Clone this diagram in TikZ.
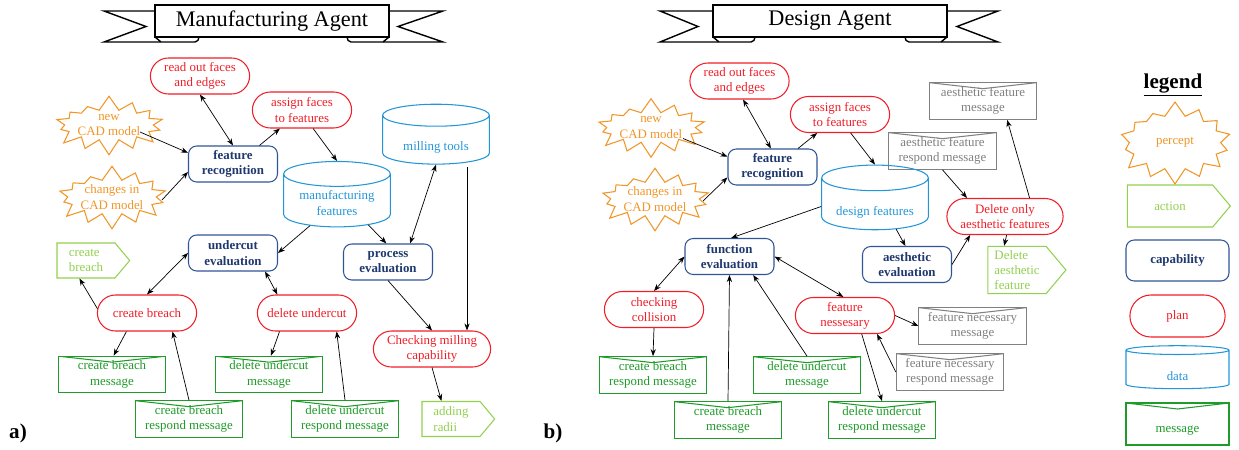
\documentclass[tikz,border=0pt]{standalone}
\usepackage{fontspec}
\setmainfont{Liberation Serif}
\usetikzlibrary{shapes.symbols,shapes.geometric,shapes.misc,arrows.meta,calc}

\definecolor{percol}{RGB}{240,150,40}
\definecolor{actcol}{RGB}{146,208,80}
\definecolor{capcol}{RGB}{47,85,151}
\definecolor{captext}{RGB}{31,56,110}
\definecolor{plancol}{RGB}{240,30,40}
\definecolor{datcol}{RGB}{35,150,215}
\definecolor{msgcol}{RGB}{30,155,40}
\definecolor{msggray}{RGB}{128,128,128}

\begin{document}
\begin{tikzpicture}[>={Stealth[length=6pt,width=4.5pt]}, x=0.03cm, y=-0.03cm,
    line width=0.6pt, font=\fontsize{11}{13}\selectfont,
    percept/.style={starburst, starburst points=14, starburst point height=0.45cm,
        random starburst=7, draw=percol, text=percol, line width=0.9pt, align=center,
        inner sep=0pt, minimum width=2.9cm, minimum height=1.3cm},
    actionbox/.style={signal, signal to=east, signal pointer angle=100, draw=actcol,
        text=actcol, line width=0.9pt, align=left, minimum width=2.18cm,
        minimum height=1.05cm},
    capab/.style={rectangle, rounded corners=7pt, draw=capcol, text=captext,
        font=\fontsize{11}{13}\selectfont\bfseries, line width=0.9pt, align=center,
        minimum width=2.67cm, minimum height=1.08cm},
    planbox/.style={rounded rectangle, draw=plancol, text=plancol, line width=0.9pt,
        align=center, minimum width=3.21cm, minimum height=1.08cm},
    databox/.style={cylinder, shape border rotate=90, aspect=0.3, draw=datcol,
        text=datcol, line width=0.9pt, align=center, minimum width=3.2cm,
        minimum height=1.6cm, execute at begin node={\rule{0pt}{17pt}}},
    msgbox/.style={rectangle, draw=#1, text=#1, line width=0.9pt, align=center,
        minimum width=3.22cm, minimum height=1.1cm,
        execute at begin node={\rule{0pt}{17pt}},
        path picture={\draw[#1, line width=0.9pt] (path picture bounding box.north west)
            -- ([yshift=-0.18cm]path picture bounding box.north)
            -- (path picture bounding box.north east);}},
    msgbox/.default=msgcol
]

    \useasboundingbox (0,0) rectangle (1239,449);

    % Dibujar la cinta del titulo (agente de fabricacion)
    \draw[line width=1.2pt, fill=white] (104,11) -- (160,11) -- (160,42) -- (104,42) -- (146,26.5) -- cycle;
    \draw[line width=1.2pt, fill=white] (443,11) -- (384,11) -- (384,42) -- (443,42) -- (398,26.5) -- cycle;
    \draw[line width=1.2pt, fill=white] (155,37) -- (161,42) -- (195,42) to[out=0,in=-90] (199,37);
    \draw[line width=1.2pt, fill=white] (389,37) -- (383,42) -- (351,42) to[out=180,in=-90] (347,37);
    \node[draw, line width=1.5pt, fill=white, minimum width=7.02cm, minimum height=0.96cm,
        font=\fontsize{19}{22}\selectfont] (mtitle) at (272,21) {Manufacturing Agent};

    % Dibujar la cinta del titulo (agente de diseno)
    \draw[line width=1.2pt, fill=white] (660,11) -- (718,11) -- (718,42) -- (660,42) -- (698,26.5) -- cycle;
    \draw[line width=1.2pt, fill=white] (998,11) -- (942,11) -- (942,42) -- (998,42) -- (957,26.5) -- cycle;
    \draw[line width=1.2pt, fill=white] (713,37) -- (719,42) -- (751,42) to[out=0,in=-90] (755,37);
    \draw[line width=1.2pt, fill=white] (947,37) -- (941,42) -- (909,42) to[out=180,in=-90] (905,37);
    \node[draw, line width=1.5pt, fill=white, minimum width=7.02cm, minimum height=0.96cm,
        font=\fontsize{19}{22}\selectfont] (dtitle) at (830,21) {Design Agent};

    % Nodos del agente de fabricacion
    \node[planbox] (mread) at (200,76) {read out faces\\and edges};
    \node[planbox] (massign) at (302,110) {assign faces\\to features};
    \node[percept] (mnew) at (109,125) {new\\CAD model};
    \node[percept] (mchange) at (112,197) {changes in\\CAD model};
    \node[capab] (mfr) at (233,164) {feature\\recognition};
    \node[databox] (mmf) at (337,203) {manufacturing\\features};
    \node[databox] (mmill) at (436,142) {milling tools};
    \node[capab] (mue) at (233,253) {undercut\\evaluation};
    \node[capab] (mpe) at (388,262) {process\\evaluation};
    \node[actionbox] (mcba) at (86,260.5) {create\\breach};
    \node[planbox] (mcb) at (147,313) {create breach};
    \node[planbox] (mdu) at (307,313) {delete undercut};
    \node[planbox, minimum width=3.75cm] (mcheck) at (432,349) {Checking milling\\capability};
    \node[msgbox] (mcbm) at (112,374.5) {create breach\\message};
    \node[msgbox] (mdum) at (269,374.5) {delete undercut\\message};
    \node[msgbox] (mcbr) at (189,419) {create breach\\respond message};
    \node[msgbox] (mdur) at (345,419) {delete undercut\\respond message};
    \node[actionbox] (mrad) at (451,419) {adding\\radii};

    % Flechas del agente de fabricacion
    \draw[->] ($(mnew)+(31,7)$) -- (mfr.166);
    \draw[->] ($(mchange)+(50,3)$) -- (mfr.190);
    \draw[<->] (mread.south) -- (mfr.north);
    \draw[->] (mfr.35) -- (massign.220);
    \draw[->] (massign.-59) -- (mmf.90);
    \draw[->] (mmf.220) -- (mue.east);
    \draw[->] (mmf.-35) -- (mpe.95);
    \draw[<->] (mmill.-90) -- (mpe.40);
    \draw[->] ($(mmill)+(31,25)$) -- ($(mcheck.north)+(35,0)$);
    \draw[->] (mpe.south) -- (mcheck.north);
    \draw[->] (mcheck.south) -- (mrad.118);
    \draw[<->] (mue.west) -- (mcb.north);
    \draw[->] (mcb.175) -- (mcba.250);
    \draw[<->] (mue.-30) -- (mdu.148);
    \draw[->] (mcb.222) -- (mcbm.85);
    \draw[->] (mcbr.north) -- (mcb.-36);
    \draw[->] (mdu.214) -- (mdum.84);
    \draw[->] (mdur.north) -- (mdu.-32);

    % Nodos del agente de diseno
    \node[planbox] (dread) at (739.5,81) {read out faces\\and edges};
    \node[planbox] (dassign) at (840,114.5) {assign faces\\to features};
    \node[percept] (dnew) at (651,127.5) {new\\CAD model};
    \node[percept] (dchange) at (655,199) {changes in\\CAD model};
    \node[capab] (dfr) at (772.5,167) {feature\\recognition};
    \node[msgbox=msggray] (dafm) at (983,101) {aesthetic feature\\message};
    \node[msgbox=msggray] (dafr) at (942.5,151) {aesthetic feature\\respond message};
    \node[databox, minimum height=1.53cm] (ddf) at (875,206.5) {design features};
    \node[planbox, minimum width=3.72cm] (ddel) at (1005,216.5) {Delete only\\aesthetic features};
    \node[capab] (dfe) at (729.5,256.5) {function\\evaluation};
    \node[capab] (dae) at (907,264.5) {aesthetic\\evaluation};
    \node[actionbox, minimum width=2.34cm, minimum height=1.38cm] (dact) at (1017,270) {Delete\\aesthetic\\feature};
    \node[planbox] (dcc) at (654,309.5) {checking\\collision};
    \node[planbox] (dfn) at (845,315.5) {feature\\nessesary};
    \node[msgbox=msggray] (dfnm) at (972.5,326) {feature necessary\\message};
    \node[msgbox=msggray] (dfnr) at (950,372) {feature necessary\\respond message};
    \node[msgbox] (dcbr) at (653,375) {create breach\\respond message};
    \node[msgbox] (ddum) at (807,375) {delete undercut\\message};
    \node[msgbox] (dcbm) at (728,420) {create breach\\message};
    \node[msgbox] (ddur) at (882,420) {delete undercut\\respond message};

    % Flechas del agente de diseno
    \draw[->] ($(dnew)+(32,11)$) -- (dfr.167);
    \draw[->] ($(dchange)+(48,2)$) -- (dfr.193);
    \draw[<->] (dread.-79) -- (dfr.95);
    \draw[->] (dfr.36) -- (dassign.219);
    \draw[->] (dassign.-60) -- (ddf.90);
    \draw[->] (ddf.180) -- (dfe.85);
    \draw[->] (ddf.-47) -- (dae.95);
    \draw[->] (dae.east) -- (ddel.208);
    \draw[->] (dafr.south) -- (ddel.154);
    \draw[->] (ddel.37) -- (dafm.-38);
    \draw[->] (ddel.-85) -- (dact.118);
    \draw[<->] (dfe.west) -- (dcc.north);
    \draw[->] (dcc.south) -- (dcbr.north);
    \draw[->] (dcbm.north) -- (dfe.south);
    \draw[->] (ddum.north) -- (dfe.-38);
    \draw[<->] (dfe.east) -- (dfn.95);
    \draw[->] (dfn.east) -- (dfnm.180);
    \draw[->] (dfnr.west) -- (dfn.-30);
    \draw[->] (dfn.-48) -- (ddur.north);

    % Leyenda
    \node[font=\fontsize{18}{21}\selectfont\bfseries] (lgtitle) at (1173,85) {\underline{legend}};
    \node[percept, inner xsep=0.4cm, inner ysep=0.42cm] (lperc) at (1175,142.5) {percept};
    \node[actionbox, minimum width=3.09cm, minimum height=1.26cm, align=center] (lact) at (1170,206) {action};
    \node[capab, minimum width=3.09cm, minimum height=1.23cm] (lcap) at (1177.5,260.5) {capability};
    \node[planbox, minimum width=3.09cm, minimum height=1.26cm] (lplan) at (1177.5,316) {plan};
    \node[databox, minimum width=3.09cm, minimum height=1.29cm] (ldata) at (1177.5,370.5) {data};
    \node[msgbox, minimum width=3.09cm, minimum height=1.26cm] (lmsg) at (1177.5,424) {message};

    % Etiquetas de los paneles
    \node[font=\fontsize{18}{21}\selectfont\bfseries] (la) at (18,433) {a)};
    \node[font=\fontsize{18}{21}\selectfont\bfseries] (lb) at (553,433) {b)};

\end{tikzpicture}
\end{document}
